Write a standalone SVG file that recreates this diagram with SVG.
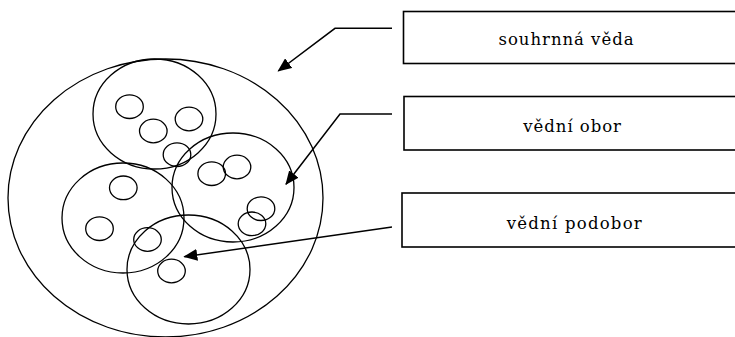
<svg xmlns="http://www.w3.org/2000/svg" width="735" height="337" viewBox="0 0 735 337">
<style>
.c{fill:none;stroke:#000;stroke-width:1.3}
.b{fill:#fff;stroke:#000;stroke-width:1.6}
.l{fill:none;stroke:#000;stroke-width:1.5}
.t{font-family:"DejaVu Serif","Liberation Serif",serif;font-size:16.5px;fill:#000}
</style>
<defs>
<marker id="ah" markerUnits="userSpaceOnUse" markerWidth="14" markerHeight="12" viewBox="0 0 14 12" refX="13" refY="6" orient="auto">
<path d="M0,0 L14,6 L0,12 z" fill="#000"/>
</marker>
</defs>
<rect width="735" height="337" fill="#fff"/>
<g id="circles">
<ellipse class="c" cx="165.5" cy="198" rx="157.5" ry="139"/>
<ellipse class="c" cx="154.5" cy="114" rx="61.5" ry="55"/>
<ellipse class="c" cx="233" cy="187.5" rx="61" ry="54.5"/>
<ellipse class="c" cx="123" cy="218" rx="61" ry="55"/>
<ellipse class="c" cx="188.5" cy="269.5" rx="61.5" ry="54.5"/>
<ellipse class="c" cx="129.5" cy="106.7" rx="13.8" ry="11.8"/>
<ellipse class="c" cx="153.3" cy="131" rx="13.8" ry="11.8"/>
<ellipse class="c" cx="189" cy="119" rx="13.8" ry="11.8"/>
<ellipse class="c" cx="177" cy="154.7" rx="13.8" ry="11.8"/>
<ellipse class="c" cx="211.7" cy="173.7" rx="13.8" ry="11.8"/>
<ellipse class="c" cx="237" cy="167" rx="13.8" ry="11.8"/>
<ellipse class="c" cx="123.3" cy="187.8" rx="13.8" ry="11.8"/>
<ellipse class="c" cx="99.5" cy="228.7" rx="13.8" ry="11.8"/>
<ellipse class="c" cx="147.5" cy="239.5" rx="13.8" ry="11.8"/>
<ellipse class="c" cx="261" cy="208.7" rx="13.8" ry="11.8"/>
<ellipse class="c" cx="252" cy="223.8" rx="13.8" ry="11.8"/>
<ellipse class="c" cx="171.5" cy="271" rx="13.8" ry="11.8"/>
</g>
<g id="connectors">
<polyline class="l" points="392,28.3 335,28.3 278.3,71" marker-end="url(#ah)"/>
<polyline class="l" points="392,114 340,114 286,184.3" marker-end="url(#ah)"/>
<polyline class="l" points="392,227 184.3,256.7" marker-end="url(#ah)"/>
</g>
<g id="node-souhrnna-veda">
<rect class="b" x="403.5" y="11.5" width="345" height="52"/>
<text class="t" x="498.5" y="45" textLength="135" lengthAdjust="spacing">souhrnná věda</text>
</g>
<g id="node-vedni-obor">
<rect class="b" x="404" y="96.5" width="345" height="53.5"/>
<text class="t" x="523.3" y="131.5" textLength="97.7" lengthAdjust="spacing">vědní obor</text>
</g>
<g id="node-vedni-podobor">
<rect class="b" x="402" y="193" width="345" height="54"/>
<text class="t" x="506.7" y="229" textLength="135" lengthAdjust="spacing">vědní podobor</text>
</g>
</svg>
